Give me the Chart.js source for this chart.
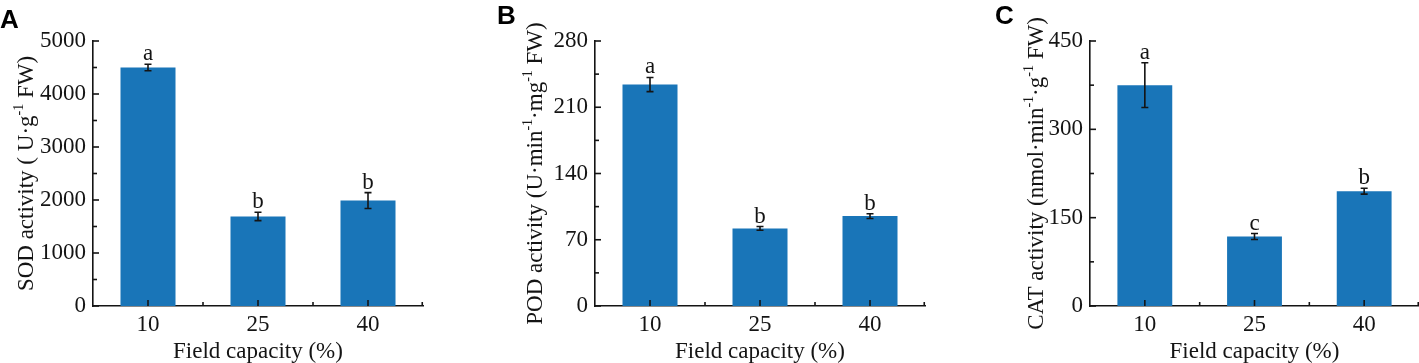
<!DOCTYPE html>
<html>
<head>
<meta charset="utf-8">
<script src="https://cdn.jsdelivr.net/npm/chart.js@4.4.1/dist/chart.umd.min.js"></script>
<style>
    body { margin: 0; background: #fff; width: 1419px; height: 363px; overflow: hidden; position: relative; }
    canvas { position: absolute; top: 0; }
</style>
</head>
<body>
<canvas id="sodChart" width="440" height="363" style="left:0px"></canvas>
<canvas id="podChart" width="460" height="363" style="left:480px"></canvas>
<canvas id="catChart" width="479" height="363" style="left:940px"></canvas>
<script>
const fieldCapacity = ['10', '25', '40'];

const sodValues = [4500, 1690, 1990];
const sodErrors = [60, 80, 150];
const sodLetters = ['a', 'b', 'b'];
const sodTicks = [0, 1000, 2000, 3000, 4000, 5000];
const sodTitle = [['SOD activity ( U·g', 0], ['-1', 1], [' FW)', 0]];

const podValues = [234, 82, 95];
const podErrors = [7.5, 2, 2.5];
const podLetters = ['a', 'b', 'b'];
const podTicks = [0, 70, 140, 210, 280];
const podTitle = [['POD activity (U·min', 0], ['-1', 1], ['·mg', 0], ['-1', 1], [' FW)', 0]];

const catValues = [375, 118, 195];
const catErrors = [38, 5, 5];
const catLetters = ['a', 'c', 'b'];
const catTicks = [0, 150, 300, 450];
const catTitle = [['CAT activity (nmol·min', 0], ['-1', 1], ['·g', 0], ['-1', 1], [' FW)', 0]];

const serif = '"Liberation Serif", "Times New Roman", serif';
const ink = '#141414';
const barColor = '#1975b8';

function drawVerticalTitle(ctx, parts, cx, cy, size) {
    const supSize = Math.round(size * 0.6);
    ctx.save();
    ctx.translate(cx, cy);
    ctx.rotate(-Math.PI / 2);
    ctx.fillStyle = ink;
    ctx.textAlign = 'left';
    ctx.textBaseline = 'alphabetic';
    let total = 0;
    parts.forEach(p => {
        ctx.font = (p[1] ? supSize : size) + 'px ' + serif;
        total += ctx.measureText(p[0]).width;
    });
    let x = -total / 2;
    const base = size * 0.33;
    parts.forEach(p => {
        ctx.font = (p[1] ? supSize : size) + 'px ' + serif;
        ctx.fillText(p[0], x, p[1] ? base - size * 0.4 : base);
        x += ctx.measureText(p[0]).width;
    });
    ctx.restore();
}

const panelDecor = {
    id: 'panelDecor',
    afterDraw(chart, args, opts) {
        const ctx = chart.ctx;
        const xs = chart.scales.x;
        const ys = chart.scales.y;
        const meta = chart.getDatasetMeta(0);

        ctx.save();
        ctx.strokeStyle = ink;
        ctx.lineWidth = 1.6;

        // error bars + letters
        meta.data.forEach((bar, i) => {
            const top = ys.getPixelForValue(opts.values[i] + opts.errors[i]);
            const bot = ys.getPixelForValue(opts.values[i] - opts.errors[i]);
            ctx.beginPath();
            ctx.moveTo(bar.x, top); ctx.lineTo(bar.x, bot);
            ctx.moveTo(bar.x - 3.5, top); ctx.lineTo(bar.x + 3.5, top);
            ctx.moveTo(bar.x - 3.5, bot); ctx.lineTo(bar.x + 3.5, bot);
            ctx.stroke();

            ctx.fillStyle = ink;
            ctx.font = '23px ' + serif;
            ctx.textAlign = 'center';
            ctx.textBaseline = 'alphabetic';
            ctx.fillText(opts.letters[i], bar.x, top - 4);
        });

        // inward ticks, y axis
        const axisX = ys.right;
        ys.ticks.forEach((t, i) => {
            const py = ys.getPixelForValue(t.value);
            ctx.beginPath();
            ctx.moveTo(axisX, py); ctx.lineTo(axisX + 6, py);
            ctx.stroke();
            if (i < ys.ticks.length - 1) {
                const my = ys.getPixelForValue((t.value + ys.ticks[i + 1].value) / 2);
                ctx.beginPath();
                ctx.moveTo(axisX, my); ctx.lineTo(axisX + 4, my);
                ctx.stroke();
            }
        });

        // inward ticks, x axis
        const axisY = xs.top;
        fieldCapacity.forEach((c, i) => {
            const px = xs.getPixelForValue(i);
            ctx.beginPath();
            ctx.moveTo(px, axisY); ctx.lineTo(px, axisY - 6);
            ctx.stroke();
            const edge = i < fieldCapacity.length - 1 ? (px + xs.getPixelForValue(i + 1)) / 2 : xs.right - 0.75;
            ctx.beginPath();
            ctx.moveTo(edge, axisY); ctx.lineTo(edge, axisY - 4);
            ctx.stroke();
        });

        drawVerticalTitle(ctx, opts.title, opts.titleX, (chart.chartArea.top + chart.chartArea.bottom) / 2, 23);

        ctx.fillStyle = '#000';
        ctx.font = 'bold 26px "Liberation Sans", Arial, sans-serif';
        ctx.textAlign = 'left';
        ctx.textBaseline = 'alphabetic';
        ctx.fillText(opts.panel, opts.panelX, opts.panelY);
        ctx.restore();
    }
};

function createPanel(canvasId, cfg) {
    const ctx = document.getElementById(canvasId).getContext('2d');
    new Chart(ctx, {
        type: 'bar',
        data: {
            labels: fieldCapacity,
            datasets: [{
                data: cfg.values,
                backgroundColor: barColor,
                borderWidth: 0,
                barPercentage: 1,
                categoryPercentage: 0.5
            }]
        },
        options: {
            responsive: false,
            animation: false,
            devicePixelRatio: 1,
            layout: {
                padding: { top: 41, right: cfg.padRight, bottom: 0, left: 0 }
            },
            plugins: {
                legend: { display: false },
                tooltip: { enabled: false },
                panelDecor: cfg
            },
            scales: {
                x: {
                    z: 1,
                    grid: { display: false, drawTicks: false },
                    border: { display: true, color: ink, width: 1.6 },
                    ticks: { color: ink, padding: 5, font: { family: serif, size: 23 } },
                    title: {
                        display: true,
                        text: 'Field capacity (%)',
                        color: ink,
                        padding: { top: 0, bottom: 0 },
                        font: { family: serif, size: 23, lineHeight: 1 }
                    },
                    afterFit: s => { s.height = 57; }
                },
                y: {
                    z: 1,
                    min: cfg.ticks[0],
                    max: cfg.ticks[cfg.ticks.length - 1],
                    grid: { display: false, drawTicks: false },
                    border: { display: true, color: ink, width: 1.6 },
                    ticks: {
                        color: ink,
                        padding: 7,
                        font: { family: serif, size: 23 },
                        callback: v => String(v)
                    },
                    afterBuildTicks: s => { s.ticks = cfg.ticks.map(v => ({ value: v })); },
                    afterFit: s => { s.width = cfg.axisWidth; }
                }
            }
        },
        plugins: [panelDecor]
    });
}

createPanel('sodChart', {
    values: sodValues, errors: sodErrors, letters: sodLetters, ticks: sodTicks, title: sodTitle,
    panel: 'A', panelX: 0, panelY: 28, titleX: 25, axisWidth: 93, padRight: 17
});
createPanel('podChart', {
    values: podValues, errors: podErrors, letters: podLetters, ticks: podTicks, title: podTitle,
    panel: 'B', panelX: 17, panelY: 24, titleX: 54, axisWidth: 115, padRight: 15
});
createPanel('catChart', {
    values: catValues, errors: catErrors, letters: catLetters, ticks: catTicks, title: catTitle,
    panel: 'C', panelX: 55, panelY: 24, titleX: 95, axisWidth: 150, padRight: 0
});
</script>
</body>
</html>
